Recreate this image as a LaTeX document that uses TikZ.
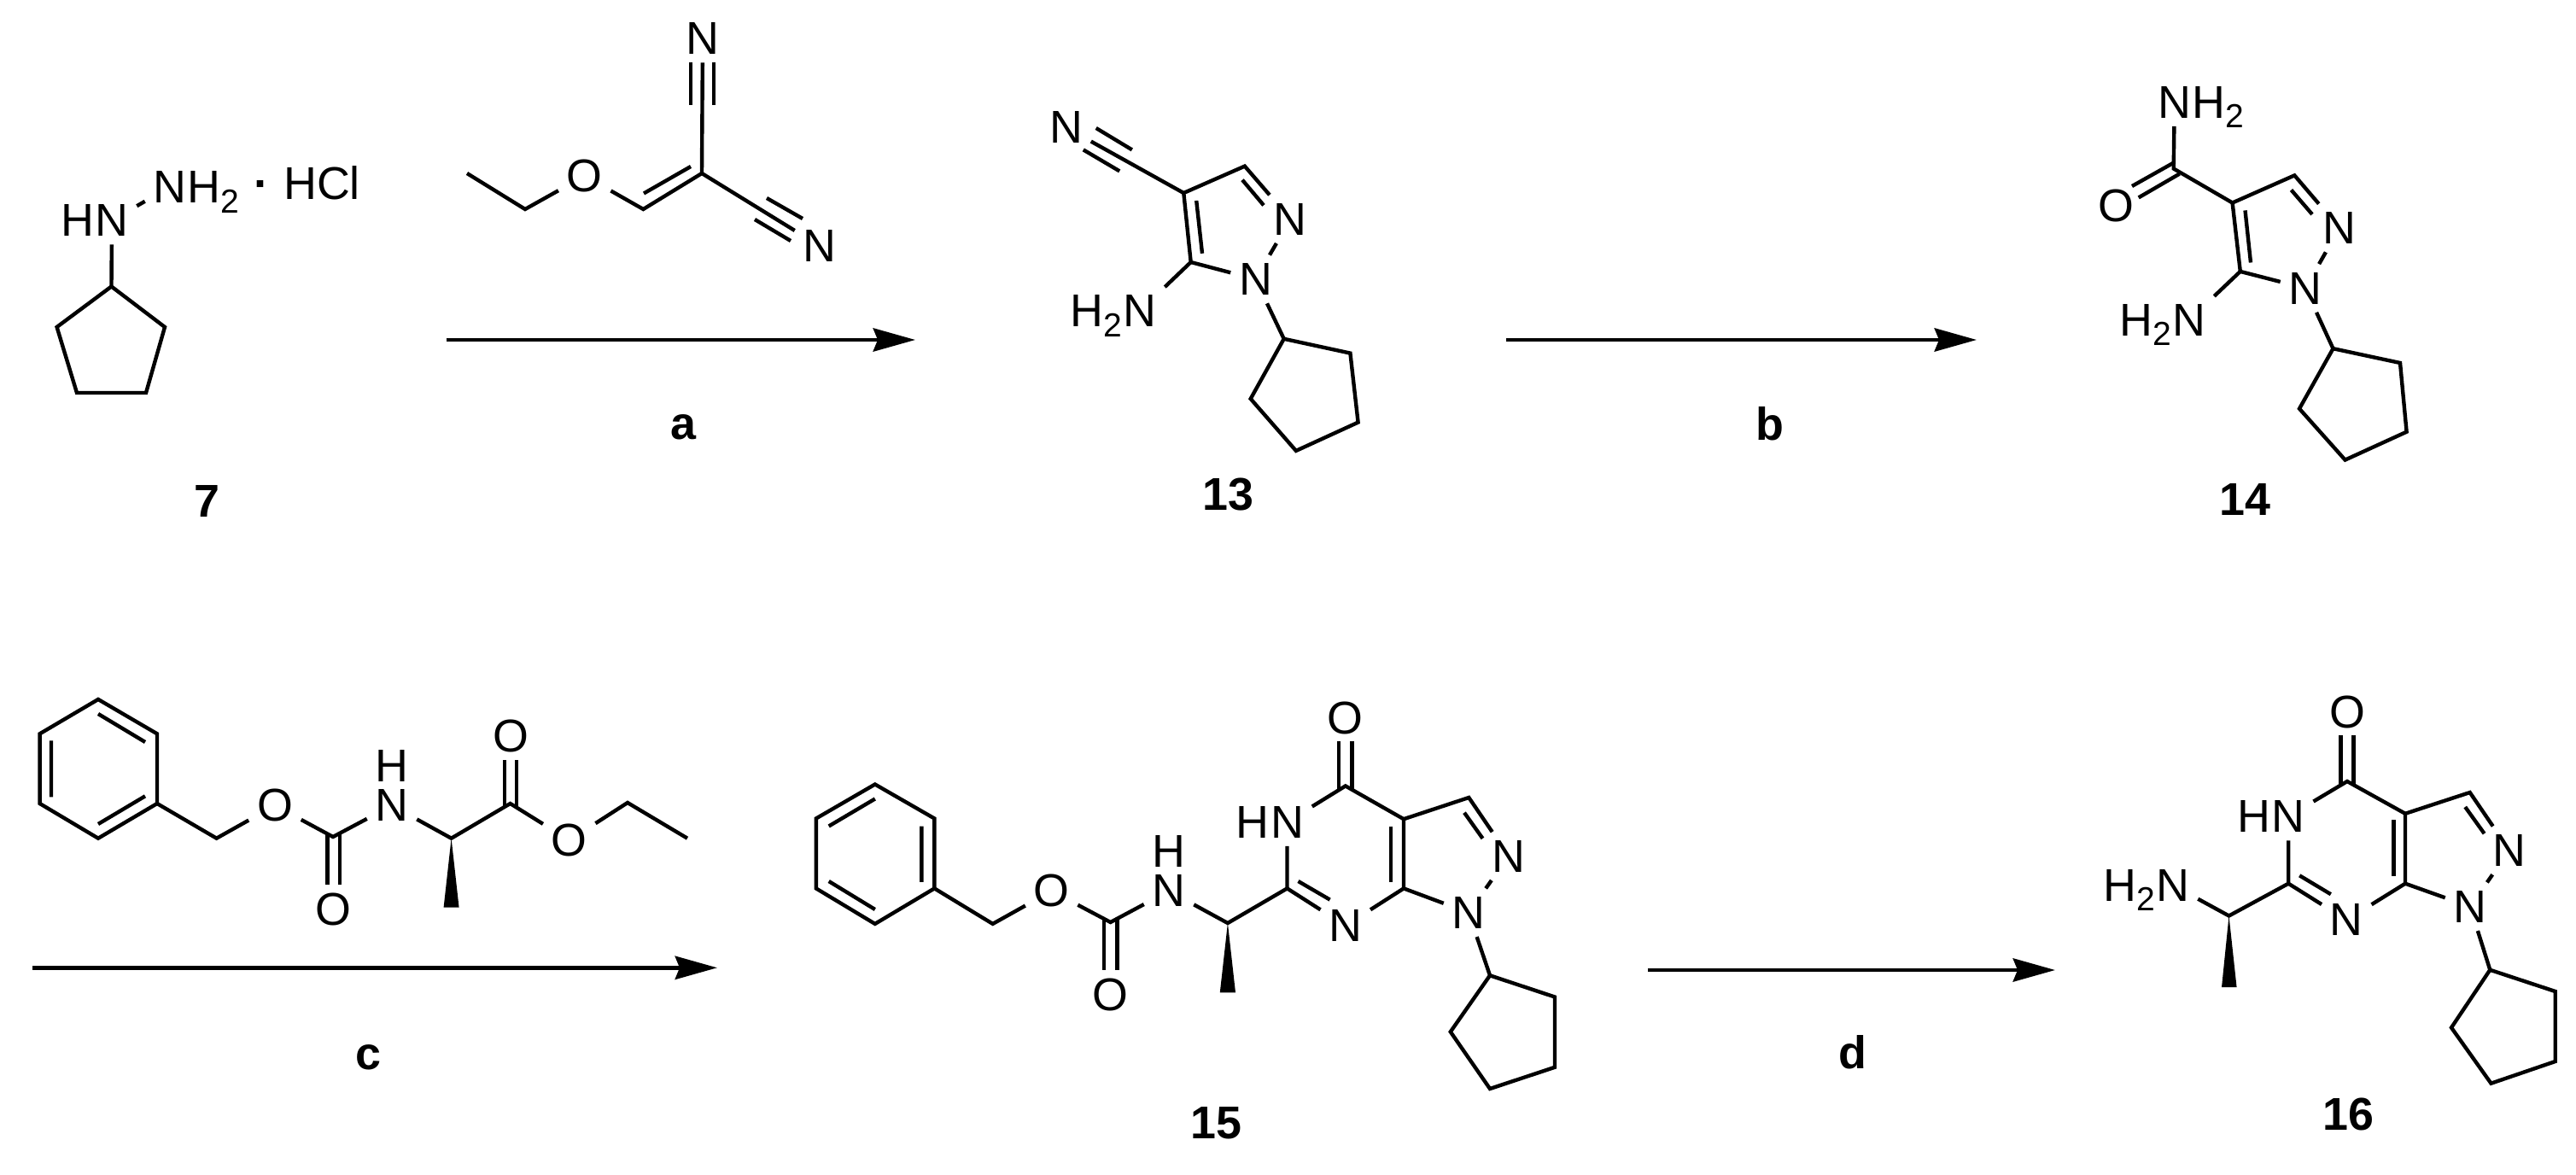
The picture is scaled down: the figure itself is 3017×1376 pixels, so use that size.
\documentclass[tikz,border=0pt]{standalone}
\usepackage{fontspec}
\setmainfont{Liberation Sans}
\usetikzlibrary{arrows.meta}
\newcommand\chemfont{\fontsize{15.3}{18}\selectfont}
\newcommand\subtwo{\raisebox{-3.35pt}{\fontsize{11.1}{12}\selectfont 2}}
\tikzset{
  bond/.style={line width=1.25pt,line join=miter,line cap=butt},
  wedge/.style={fill=black,draw=none},
  rxn/.style={line width=1.4pt,-{Stealth[length=14pt,width=7.7pt,inset=1.5pt]}},
  atom/.style={font=\chemfont,inner sep=2.6pt},
  atomNH/.style={font=\chemfont,inner xsep=2.6pt,inner ysep=1pt},
  topH/.style={font=\chemfont,inner sep=0pt},
  tailL/.style={font=\chemfont,inner sep=0pt,anchor=base east,xshift=2.6pt},
  tailR/.style={font=\chemfont,inner sep=0pt,anchor=base west,xshift=-2.6pt},
  cmpd/.style={font=\chemfont\bfseries,inner sep=0pt},
}
\begin{document}
\begin{tikzpicture}[x=0.01cm,y=-0.01cm]
\useasboundingbox (0,0) rectangle (3017,1376);

% ---------- compound 7
\foreach \n/\x/\y in {A1/130.5/335.5,A2/193/383,A3/171/460,A4/90/460,A5/66.6/383}
  \coordinate (\n) at (\x,\y);
\node[atom] (AN) at (131,258) {N};
\node[tailL] (AH) at (AN.base west) {H};
\node[atom] (ANN) at (199,219) {N};
\node[tailR] (AH2) at (ANN.base east) {H\subtwo};
\node[font=\chemfont\bfseries,inner sep=0pt,anchor=base] (Adot) at (306.5,233.5) {·};
\node[font=\chemfont,inner sep=0pt,anchor=base] (AHCl) at (377,233.5) {HCl};
\draw[bond] (A1)--(A2)--(A3)--(A4)--(A5)--cycle;
\draw[bond] (A1)--(AN);
\draw[bond] (AN)--(ANN);
\node[cmpd] (L7) at (242,586.5) {7};

% ---------- reagent a
\foreach \n/\x/\y in {R1/547/203,R2/615/245,R3/753.4/245,R4/822/203,R5/754/226.5,R6/809/195,
  R8/809/72.6,R9/809/123,R10/836/72.6,R11/836/123,R12/898/232,R13/940/256,R14/884/257,R15/926/282}
  \coordinate (\n) at (\x,\y);
\node[atom] (RO) at (684.7,206) {O};
\node[atom] (RN1) at (823,45) {N};
\node[atom] (RN2) at (960,288) {N};
\draw[bond] (R1)--(R2)--(RO);
\draw[bond] (RO)--(R3)--(R4);
\draw[bond] (R5)--(R6);
\draw[bond] (R4)--(RN1);
\draw[bond] (R8)--(R9) (R10)--(R11);
\draw[bond] (R4)--(RN2);
\draw[bond] (R12)--(R13) (R14)--(R15);

% ---------- arrow a
\coordinate (arA1) at (522.6,398);
\coordinate (arA2) at (1072,398);
\draw[rxn] (arA1)--(arA2);
\node[cmpd] (La) at (800,500) {a};

% ---------- compound 13
\foreach \n/\x/\y in {B4/1386.3/226,B3/1457.8/194.6,B5/1394.7/307,B6/1455/210.7,B7/1480/240.4,
  B8/1401.2/235,B9/1408/296.8,B10/1283.7/150,B11/1325.8/175.4,B12/1268.8/175.4,B13/1311.2/200.4,
  B14/1503.7/396.8,B15/1581.4/413.6,B16/1590.6/494.6,B17/1517.9/527.9,B18/1464.7/467}
  \coordinate (\n) at (\x,\y);
\node[atom] (BN2) at (1511.4,256.6) {N};
\node[atom] (BN1) at (1470.5,327) {N};
\node[atom] (BCN) at (1248.5,149.3) {N};
\node[atom] (BNH) at (1335,364) {N};
\node[tailL] (BH2) at (BNH.base west) {H\subtwo};
\draw[bond] (B5)--(B4)--(B3)--(BN2);
\draw[bond] (BN2)--(BN1);
\draw[bond] (BN1)--(B5);
\draw[bond] (B6)--(B7) (B8)--(B9);
\draw[bond] (B4)--(BCN);
\draw[bond] (B10)--(B11) (B12)--(B13);
\draw[bond] (B5)--(BNH);
\draw[bond] (BN1)--(B14);
\draw[bond] (B14)--(B15)--(B16)--(B17)--(B18)--cycle;
\node[cmpd] (L13) at (1438.7,578.6) {13};

% ---------- arrow b
\coordinate (arB1) at (1764,398);
\coordinate (arB2) at (2315,398);
\draw[rxn] (arB1)--(arB2);
\node[cmpd] (Lb) at (2073,496) {b};

% ---------- compound 14
\foreach \n/\x/\y in {C4/2614.6/237.5,C3/2687.3/205.4,C5/2623.8/317.9,C6/2683.5/222.5,C7/2708/251,
  C8/2629.5/246.4,C9/2636/307.5,Cam/2545.7/197.5,C10/2545/191,C11/2497/218,C12/2552.6/203.6,C13/2504.7/231.4,
  C14/2732.5/408.2,C15/2811/425,C16/2818.6/505.7,C17/2746.6/538.6,C18/2693/478.6}
  \coordinate (\n) at (\x,\y);
\node[atom] (CN2) at (2740,267) {N};
\node[atom] (CN1) at (2700,337.5) {N};
\node[atom] (CNA) at (2546.8,119.6) {N};
\node[tailR] (CH2A) at (CNA.base east) {H\subtwo};
\node[atom] (CO) at (2478,241) {O};
\node[atom] (CNH) at (2564,374.6) {N};
\node[tailL] (CH2B) at (CNH.base west) {H\subtwo};
\draw[bond] (C5)--(C4)--(C3)--(CN2);
\draw[bond] (CN2)--(CN1);
\draw[bond] (CN1)--(C5);
\draw[bond] (C6)--(C7) (C8)--(C9);
\draw[bond] (C4)--(Cam)--(CNA);
\draw[bond] (C10)--(C11) (C12)--(C13);
\draw[bond] (C5)--(CNH);
\draw[bond] (CN1)--(C14);
\draw[bond] (C14)--(C15)--(C16)--(C17)--(C18)--cycle;
\node[cmpd] (L14) at (2629,585) {14};

% ---------- reagent c
\foreach \n/\x/\y in {D1/115/819,D2/184/859.3,D3/184/941,D4/115/981.7,D5/46.6/941,D6/46.6/859.3,
  D7/115/836,D8/170/869,D9/60/867.3,D10/60/933.3,D11/115/965,D12/170/932.3,D13/253.6/981.7,D14/390/980,
  D15/383.3/976,D16/383.3/1036,D17/397.9/976,D18/397.9/1036,D19/528.6/981.7,D20/597.6/941,
  D21/519.6/1062.7,D22/537.6/1062.7,D23/591/945,D24/591/890,D25/605/945,D26/605/890,D27/735/940,D28/805/981.7}
  \coordinate (\n) at (\x,\y);
\node[atom] (DO1) at (322,943.3) {O};
\node[atomNH] (DN) at (459,943.3) {N};
\node[topH] (DH) at (459,896.7) {H};
\node[atom] (DO2) at (390.6,1065) {O};
\node[atom] (DO3) at (598,862.3) {O};
\node[atom] (DO4) at (666.7,984) {O};
\draw[bond] (D1)--(D2)--(D3)--(D4)--(D5)--(D6)--cycle;
\draw[bond] (D7)--(D8) (D9)--(D10) (D11)--(D12);
\draw[bond] (D3)--(D13)--(DO1);
\draw[bond] (DO1)--(D14)--(DN);
\draw[bond] (D15)--(D16) (D17)--(D18);
\draw[bond] (DN)--(D19)--(D20)--(DO4);
\draw[bond] (D23)--(D24) (D25)--(D26);
\draw[bond] (DO4)--(D27)--(D28);
\fill[wedge] (D19)--(D21)--(D22)--cycle;

% ---------- arrow c
\coordinate (arC1) at (38,1133.3);
\coordinate (arC2) at (840,1133.3);
\draw[rxn] (arC1)--(arC2);
\node[cmpd] (Lc) at (431,1238) {c};

% ---------- compound 15
\foreach \n/\x/\y in {E1/1024.8/918.5,E2/1094.4/958.5,E3/1094.4/1040.4,E4/1024.8/1081.9,E5/955.8/1040.4,E6/955.8/958.5,
  E7/1024.8/935.5,E8/970.7/967.5,E9/1079.4/967.5,E10/1079.4/1032.8,E11/1024.8/1065,E12/970.7/1032,
  E13/1162.7/1081.9,E14/1300.6/1080,E15/1292.8/1076,E16/1292.8/1135.8,E17/1308.4/1076,E18/1308.4/1135.8,
  E19/1437.9/1081,E20/1507.5/1040.4,E21/1428.8/1162.3,E22/1447/1162.3,E23/1575.8/920.4,
  E24/1568/924,E25/1568/868,E26/1583.6/924,E27/1583.6/868,E28/1644/959.2,E29/1644/1040.4,
  E30/1629/967.5,E31/1629/1032.8,E32/1520.5/1032,E33/1557.6/1053.6,E34/1720.3/934,E35/1715/951.7,E36/1736.5/981.9,
  E37/1745/1142.3,E38/1821/1167.5,E39/1821/1249.8,E40/1745/1275,E41/1698.8/1208.3}
  \coordinate (\n) at (\x,\y);
\node[atom] (EO1) at (1231.6,1043.4) {O};
\node[atomNH] (EN) at (1369,1043.4) {N};
\node[topH] (EH) at (1369,997) {H};
\node[atom] (EO2) at (1300.6,1165) {O};
\node[atom] (EHN) at (1507.5,962.5) {N};
\node[tailL] (EHNH) at (EHN.base west) {H};
\node[atom] (EO3) at (1575.8,841) {O};
\node[atom] (EN7) at (1575.8,1084) {N};
\node[atom] (EN1) at (1720,1068.7) {N};
\node[atom] (EN2) at (1767,1002.6) {N};
\draw[bond] (E1)--(E2)--(E3)--(E4)--(E5)--(E6)--cycle;
\draw[bond] (E7)--(E8) (E9)--(E10) (E11)--(E12);
\draw[bond] (E3)--(E13)--(EO1);
\draw[bond] (EO1)--(E14)--(EN);
\draw[bond] (E15)--(E16) (E17)--(E18);
\draw[bond] (EN)--(E19)--(E20)--(EHN);
\fill[wedge] (E19)--(E21)--(E22)--cycle;
\draw[bond] (EHN)--(E23)--(E28)--(E29)--(EN7);
\draw[bond] (E24)--(E25) (E26)--(E27);
\draw[bond] (E30)--(E31);
\draw[bond] (E20)--(EN7);
\draw[bond] (E32)--(E33);
\draw[bond] (E29)--(EN1);
\draw[bond] (E28)--(E34)--(EN2);
\draw[bond] (E35)--(E36);
\draw[bond] (EN2)--(EN1);
\draw[bond] (EN1)--(E37);
\draw[bond] (E37)--(E38)--(E39)--(E40)--(E41)--cycle;
\node[cmpd] (L15) at (1424.2,1315) {15};

% ---------- arrow d
\coordinate (arD1) at (1930,1136);
\coordinate (arD2) at (2407,1136);
\draw[rxn] (arD1)--(arD2);
\node[cmpd] (Ld) at (2170,1232) {d};

% ---------- compound 16
\foreach \n/\x/\y in {F1/2749/915,F2/2741.6/919,F3/2741.6/861,F4/2756.4/919,F5/2756.4/861,F6/2817/952.8,F7/2817/1034.7,
  F8/2803.4/960.4,F9/2803.4/1026,F10/2892.7/928,F11/2887.2/945,F12/2909.6/976.2,F13/2680.2/1034.7,
  F14/2693.2/1025.3,F15/2729.8/1047.2,F16/2610.5/1072.5,F17/2602/1156.2,F18/2619.6/1156.2,
  F19/2916.3/1135.8,F20/2992.7/1161,F21/2992.7/1243,F22/2917.5/1268.7,F23/2871/1203.4}
  \coordinate (\n) at (\x,\y);
\node[atom] (FO) at (2749,834) {O};
\node[atom] (FN) at (2680.2,956) {N};
\node[tailL] (FNH) at (FN.base west) {H};
\node[atom] (FN2) at (2939,995.9) {N};
\node[atom] (FN1) at (2893,1061.7) {N};
\node[atom] (FN7) at (2748.3,1077.4) {N};
\node[atom] (FNA) at (2545,1036.7) {N};
\node[tailL] (FH2) at (FNA.base west) {H\subtwo};
\draw[bond] (F2)--(F3) (F4)--(F5);
\draw[bond] (FN)--(F1)--(F6)--(F7)--(FN7);
\draw[bond] (F8)--(F9);
\draw[bond] (F6)--(F10)--(FN2);
\draw[bond] (F11)--(F12);
\draw[bond] (FN2)--(FN1);
\draw[bond] (FN1)--(F7);
\draw[bond] (FN7)--(F13)--(FN);
\draw[bond] (F14)--(F15);
\draw[bond] (F13)--(F16)--(FNA);
\fill[wedge] (F16)--(F17)--(F18)--cycle;
\draw[bond] (FN1)--(F19);
\draw[bond] (F19)--(F20)--(F21)--(F22)--(F23)--cycle;
\node[cmpd] (L16) at (2750,1304.5) {16};
\end{tikzpicture}
\end{document}
